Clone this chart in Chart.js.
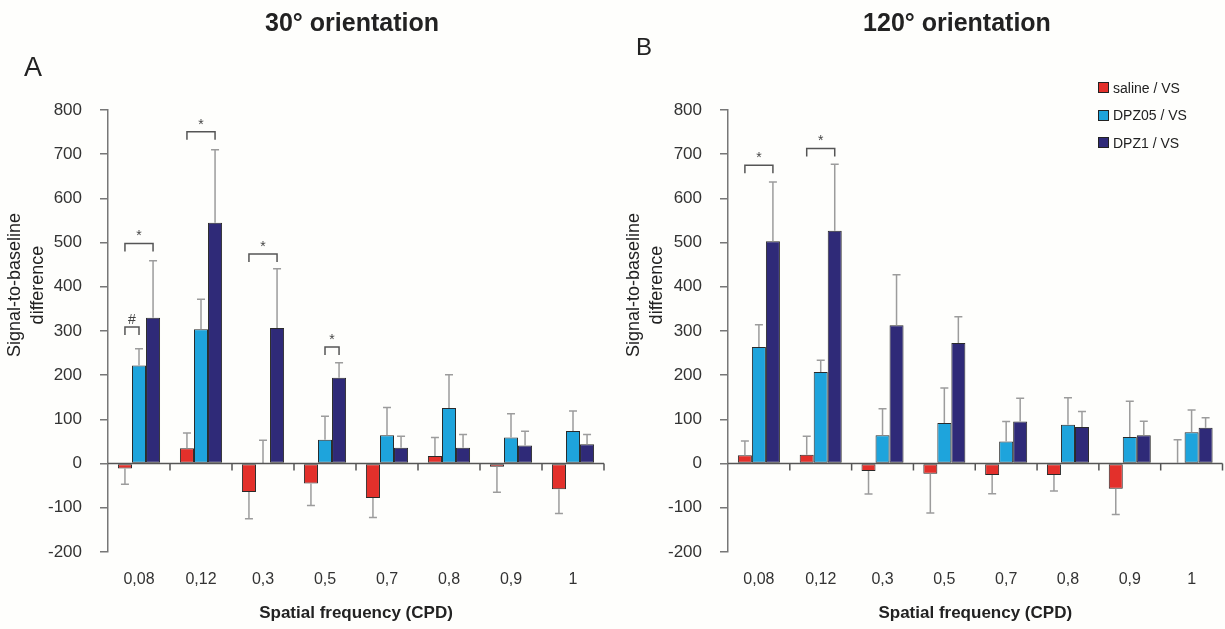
<!DOCTYPE html>
<html lang="en">
<head>
<meta charset="utf-8">
<title>Signal-to-baseline difference</title>
<script src="https://cdn.jsdelivr.net/npm/chart.js@4.4.1/dist/chart.umd.min.js"></script>
<style>
    body {
        margin: 0;
        background: #fefefc;
        width: 1225px;
        height: 629px;
        overflow: hidden;
        position: relative;
        font-family: "Liberation Sans", Arial, sans-serif;
        color: #222;
    }
    canvas { position: absolute; top: 0; }
    .title {
        position: absolute;
        width: 400px;
        text-align: center;
        font-weight: bold;
        font-size: 25px;
        line-height: 25px;
        top: 10px;
    }
    .letter { position: absolute; line-height: 1; }
    .ytitle {
        position: absolute;
        width: 300px;
        height: 46px;
        font-size: 18px;
        line-height: 23px;
        text-align: center;
        transform: rotate(-90deg);
    }
    .legend { position: absolute; left: 1098px; top: 74px; font-size: 14px; }
    .legend div { height: 27.5px; display: flex; align-items: center; }
    .legend span.box { width: 9px; height: 9px; border: 1px solid #222; margin-right: 4px; }
</style>
</head>
<body>

<canvas id="chart30" width="612" height="629" style="left:0px"></canvas>
<canvas id="chart120" width="613" height="629" style="left:612px"></canvas>

<div class="title" style="left:152px">30° orientation</div>
<div class="title" style="left:757px">120° orientation</div>
<div class="letter" style="left:24px; top:54px; font-size:27px">A</div>
<div class="letter" style="left:636px; top:35px; font-size:24px">B</div>

<div class="ytitle" style="left:-124.5px; top:262px">Signal-to-baseline<br>difference</div>
<div class="ytitle" style="left:494.5px; top:262px">Signal-to-baseline<br>difference</div>

<div class="legend" id="legend"></div>

<script>
    // data
    var freqLabels = ['0,08', '0,12', '0,3', '0,5', '0,7', '0,8', '0,9', '1'];
    var seriesNames = ['saline / VS', 'DPZ05 / VS', 'DPZ1 / VS'];
    var seriesColors = ['#e3302b', '#1ea4dc', '#2f2a78'];
    var yTicks = [-200, 800, 100]; // min, max, step

    // 30° orientation (A)
    var saline30 = [-11, 35, -64, -45, -78, 17, -7, -58];
    var saline30Err = [-47, 69, -125, -95, -122, 59, -65, -113];
    var dpz05_30 = [222, 304, 0, 54, 64, 126, 59, 74];
    var dpz05_30Err = [260, 372, 53, 107, 127, 201, 113, 119];
    var dpz1_30 = [330, 545, 307, 194, 36, 36, 41, 44];
    var dpz1_30Err = [459, 710, 441, 228, 62, 66, 73, 66];

    // 120° orientation (B)
    var saline120 = [19, 20, -17, -23, -26, -26, -57, 2];
    var saline120Err = [51, 62, -69, -112, -68, -62, -115, 54];
    var dpz05_120 = [264, 207, 64, 92, 50, 88, 60, 71];
    var dpz05_120Err = [314, 234, 124, 171, 95, 149, 141, 121];
    var dpz1_120 = [503, 527, 313, 273, 95, 83, 64, 81];
    var dpz1_120Err = [637, 677, 427, 332, 148, 118, 96, 104];

    // significance brackets: [category, series from, series to, height, mark]
    var sig30 = [[0, 0, 2, 498, '*'], [0, 0, 1, 309, '#'], [1, 0, 2, 751, '*'], [2, 0, 2, 474, '*'], [3, 1, 2, 264, '*']];
    var sig120 = [[0, 0, 2, 675, '*'], [1, 0, 2, 713, '*']];

    // error bars, zero line with category ticks, brackets
    var extrasPlugin = {
        id: 'extras',
        afterDatasetsDraw: function (chart) {
            var ctx = chart.ctx;
            var xs = chart.scales.x, ys = chart.scales.y;
            var area = chart.chartArea;
            ctx.save();

            ctx.strokeStyle = '#9c9c9c';
            ctx.lineWidth = 1.5;
            chart.data.datasets.forEach(function (ds, i) {
                chart.getDatasetMeta(i).data.forEach(function (bar, j) {
                    var end = ys.getPixelForValue(ds.errors[j]);
                    ctx.beginPath();
                    ctx.moveTo(bar.x, bar.y);
                    ctx.lineTo(bar.x, end);
                    ctx.moveTo(bar.x - 4, end);
                    ctx.lineTo(bar.x + 4, end);
                    ctx.stroke();
                });
            });

            var y0 = ys.getPixelForValue(0);
            ctx.strokeStyle = '#555';
            ctx.lineWidth = 1.5;
            ctx.beginPath();
            ctx.moveTo(area.left, y0);
            ctx.lineTo(area.right, y0);
            for (var k = 1; k <= freqLabels.length; k++) {
                var px = xs.getPixelForValue(k - 0.5);
                ctx.moveTo(px, y0);
                ctx.lineTo(px, y0 + 7);
            }
            ctx.stroke();

            var sigs = chart.options.plugins.extras.sigs;
            ctx.strokeStyle = '#555';
            ctx.fillStyle = '#444';
            ctx.font = '14px "Liberation Sans", Arial, sans-serif';
            ctx.textAlign = 'center';
            ctx.textBaseline = 'alphabetic';
            sigs.forEach(function (s) {
                var xa = chart.getDatasetMeta(s[1]).data[s[0]].x;
                var xb = chart.getDatasetMeta(s[2]).data[s[0]].x;
                var py = ys.getPixelForValue(s[3]);
                ctx.beginPath();
                ctx.moveTo(xa, py + 8);
                ctx.lineTo(xa, py);
                ctx.lineTo(xb, py);
                ctx.lineTo(xb, py + 8);
                ctx.stroke();
                ctx.fillText(s[4], (xa + xb) / 2, py - 3);
            });
            ctx.restore();
        }
    };

    function makeChart(id, values, errors, sigs, yWidth, padRight) {
        var datasets = [];
        for (var i = 0; i < seriesNames.length; i++) {
            datasets.push({
                label: seriesNames[i],
                data: values[i],
                errors: errors[i],
                backgroundColor: seriesColors[i],
                borderColor: '#2a2a2a',
                borderWidth: 1,
                borderSkipped: false
            });
        }
        return new Chart(document.getElementById(id), {
            type: 'bar',
            data: { labels: freqLabels, datasets: datasets },
            plugins: [extrasPlugin],
            options: {
                responsive: false,
                animation: false,
                layout: { padding: { top: 110, right: padRight, left: 0, bottom: 0 } },
                datasets: { bar: { barPercentage: 1, categoryPercentage: 0.68 } },
                plugins: {
                    legend: { display: false },
                    tooltip: { enabled: false },
                    extras: { sigs: sigs }
                },
                scales: {
                    x: {
                        grid: { display: false },
                        border: { display: false },
                        ticks: {
                            font: { family: '"Liberation Sans", Arial, sans-serif', size: 16 },
                            color: '#333',
                            padding: 10
                        },
                        title: {
                            display: true,
                            text: 'Spatial frequency (CPD)',
                            font: { family: '"Liberation Sans", Arial, sans-serif', size: 17, weight: 'bold' },
                            color: '#222',
                            padding: { top: 0, bottom: 5 }
                        },
                        afterFit: function (s) { s.height = 77; }
                    },
                    y: {
                        min: yTicks[0],
                        max: yTicks[1],
                        ticks: {
                            stepSize: yTicks[2],
                            font: { family: '"Liberation Sans", Arial, sans-serif', size: 17 },
                            color: '#333',
                            padding: 18
                        },
                        grid: { drawOnChartArea: false, tickLength: 8, color: '#777', lineWidth: 1.5 },
                        border: { color: '#777', width: 1.5 },
                        afterFit: function (s) { s.width = yWidth; }
                    }
                }
            }
        });
    }

    makeChart('chart30', [saline30, dpz05_30, dpz1_30], [saline30Err, dpz05_30Err, dpz1_30Err], sig30, 108, 8);
    makeChart('chart120', [saline120, dpz05_120, dpz1_120], [saline120Err, dpz05_120Err, dpz1_120Err], sig120, 116, 2.5);

    var legend = document.getElementById('legend');
    seriesNames.forEach(function (name, i) {
        var row = document.createElement('div');
        row.innerHTML = '<span class="box" style="background:' + seriesColors[i] + '"></span>' + name;
        legend.appendChild(row);
    });
</script>
</body>
</html>
